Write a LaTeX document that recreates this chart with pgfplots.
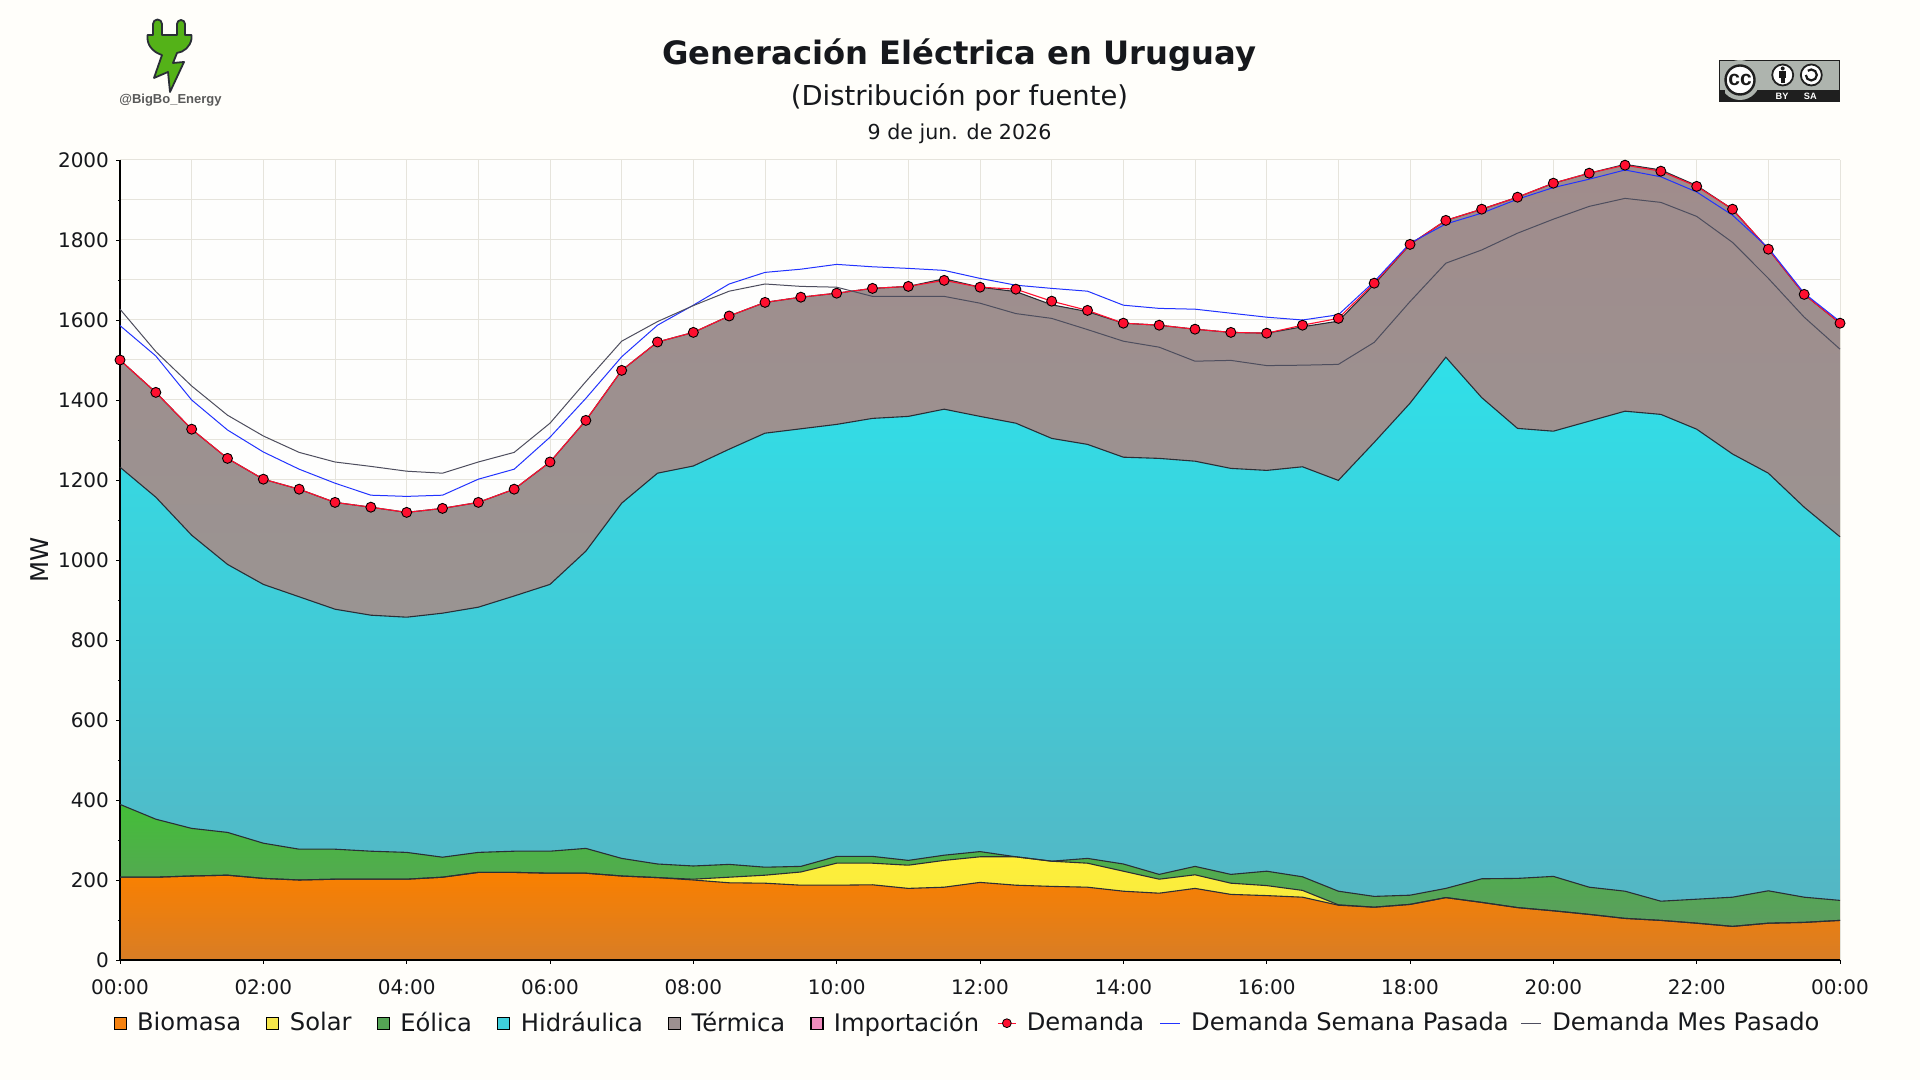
\documentclass[border=0pt]{standalone}
\usepackage{fontspec}
\setmainfont{DejaVu Sans}
\newfontfamily\logofont{Liberation Sans}
\usepackage{pgfplots}
\usepackage{pgfplotstable}
\pgfplotsset{compat=1.18}
\definecolor{bgc}{HTML}{FFFEFA}
\definecolor{plotbg}{HTML}{FEFEFD}
\definecolor{gridc}{HTML}{E6E4DC}
\definecolor{txt}{HTML}{16181C}
\definecolor{edge}{HTML}{2A2E36}
\definecolor{redd}{HTML}{FF0F2F}
\definecolor{bluel}{HTML}{2233FF}
\definecolor{grayl}{HTML}{4E4E5E}
\pgfplotstableread{
t b sol eol hyd ter imp
0 207 0 182 843 268 0
0.5 207 0 145 805 262 0
1 210 0 119 733 265 0
1.5 212 0 107 670 265 0
2 204 0 88 647 263 0
2.5 200 0 77 631 269 0
3 202 0 75 600 267 0
3.5 202 0 70 590 270 0
4 202 0 67 588 262 0
4.5 207 0 50 610 262 0
5 219 0 50 613 262 0
5.5 219 0 53 638 267 0
6 217 0 55 667 306 0
6.5 217 0 62 743 327 0
7 210 0 44 888 332 0
7.5 206 0 34 977 328 0
8 200 2 33 1000 334 0
8.5 193 14 32 1038 333 0
9 192 20 20 1085 327 0
9.5 187 33 14 1094 329 0
10 187 55 17 1080 328 0
10.5 188 54 17 1095 325 0
11 179 58 12 1110 325 0
11.5 182 67 13 1115 326 0
12 194 64 13 1088 323 0
12.5 187 71 0 1084 329 0
13 184 63 0 1057 334 0
13.5 182 60 12 1035 332 0
14 172 50 18 1017 335 0
14.5 167 35 12 1040 333 0
15 179 34 21 1013 330 0
15.5 164 28 22 1015 340 0
16 161 25 36 1002 343 0
16.5 157 17 34 1025 350 0
17 137 1 34 1027 398 0
17.5 132 0 27 1135 395 0
18 139 0 23 1230 397 0
18.5 156 0 23 1328 342 0
19 144 0 59 1203 471 0
19.5 131 0 73 1125 578 0
20 123 0 86 1113 620 0
20.5 114 0 68 1165 620 0
21 104 0 68 1200 617 0
21.5 99 0 48 1217 611 0
22 92 0 60 1175 609 0
22.5 84 0 73 1108 612 0
23 92 0 81 1044 560 0
23.5 94 0 63 975 532 0
24 99 0 50 909 534 0
}\layers
\pgfplotstableread{
t dem week month
0 1500 1586 1627
0.5 1419 1510 1521
1 1327 1400 1435
1.5 1254 1325 1362
2 1202 1270 1310
2.5 1177 1227 1269
3 1144 1192 1245
3.5 1132 1162 1234
4 1119 1159 1222
4.5 1129 1162 1217
5 1144 1202 1245
5.5 1177 1227 1269
6 1245 1307 1342
6.5 1349 1404 1446
7 1474 1508 1547
7.5 1545 1587 1596
8 1569 1637 1636
8.5 1610 1690 1672
9 1644 1719 1690
9.5 1657 1727 1684
10 1667 1739 1682
10.5 1679 1733 1659
11 1684 1729 1659
11.5 1699 1724 1659
12 1682 1704 1642
12.5 1677 1687 1616
13 1647 1679 1604
13.5 1624 1672 1576
14 1592 1637 1547
14.5 1587 1629 1532
15 1577 1627 1497
15.5 1569 1617 1499
16 1567 1607 1486
16.5 1587 1600 1487
17 1604 1613 1489
17.5 1692 1696 1544
18 1789 1792 1646
18.5 1849 1840 1742
19 1877 1867 1775
19.5 1907 1902 1817
20 1942 1931 1852
20.5 1967 1952 1884
21 1987 1975 1904
21.5 1972 1958 1894
22 1934 1920 1859
22.5 1877 1862 1794
23 1777 1780 1704
23.5 1664 1667 1607
24 1592 1596 1527
}\lines
\begin{document}
\begin{tikzpicture}
\useasboundingbox (0,0) rectangle (960pt,540pt);
\fill[bgc] (0,0) rectangle (960pt,540pt);
% logo
\begin{scope}[x=0.5pt,y=-0.5pt,shift={(0,540pt)}]
\draw[fill={rgb,255:red,84;green,178;blue,24},draw=edge,line width=0.9pt,line join=round]
 (153,35) -- (153,24) arc[start angle=180,end angle=360,radius=4.5] -- (162,35) -- (177,35) -- (177,24) arc[start angle=180,end angle=360,radius=4] -- (185,35) -- (191.5,35) -- (191.5,39)
 .. controls (190,47) and (184,52) .. (177,53) -- (173,63) -- (184,62) -- (170,92) -- (168,72) -- (154,78) -- (162,55)
 .. controls (155,53) and (148,47) .. (147.5,39) -- (147.5,35) -- cycle;
\node[text=black!65,font=\logofont\bfseries\fontsize{6.5}{8}\selectfont] at (170.5,100.5) {@BigBo\_Energy};
% CC badge
\fill[black!88] (1719,60) rectangle (1840,102);
\fill[fill={rgb,255:red,174;green,180;blue,174}] (1720,61) rectangle (1839,90);
\fill[fill={rgb,255:red,174;green,180;blue,174}] (1740,80) circle (20);
\fill[black!88] (1719,90) -- (1725,90) -- (1725,102) -- (1719,102) -- cycle;
\draw[fill=white,draw=black!88,line width=1.2pt] (1740,80) circle (14.5);
\node[font=\logofont\bfseries\fontsize{10.5}{12}\selectfont,text=black!90,inner sep=0] at (1740,79.5) {cc};
\draw[fill=white,draw=black!88,line width=0.9pt] (1782.7,75) circle (10.5);
\fill[black!90] (1782.7,68.5) circle (2);
\fill[black!90] (1779,71.5) rectangle (1786.4,78);
\fill[black!90] (1780.7,78) rectangle (1784.7,83);
\draw[fill=white,draw=black!88,line width=0.9pt] (1811.3,75) circle (10.5);
\draw[black!90,line width=1.1pt] (1805.8,75) arc[start angle=180,end angle=-130,radius=5.5];
\node[font=\logofont\bfseries\fontsize{4.6}{5}\selectfont,text=white,inner sep=0] at (1782,96) {BY};
\node[font=\logofont\bfseries\fontsize{4.6}{5}\selectfont,text=white,inner sep=0] at (1810.3,96) {SA};
% titles
\node[text=txt,font=\bfseries\fontsize{16.1}{18}\selectfont] at (959.5,55.5) {Generación Eléctrica en Uruguay};
\node[text=txt,font=\fontsize{13.7}{16}\selectfont] at (959.5,97) {(Distribución por fuente)};
\node[text=txt,font=\fontsize{10.3}{12}\selectfont] at (959.5,133.5) {9 de jun. de 2026};
\end{scope}
% stacked areas with the grid under them
\begin{axis}[
  at={(60pt,60pt)},anchor=south west,
  width=860pt,height=400pt,scale only axis,
  xmin=0,xmax=24,ymin=0,ymax=2000,
  axis lines=left,axis line style={draw=none},
  stack plots=y,
  axis background/.style={fill=plotbg},
  xtick={0,2,...,24},xticklabels={},
  minor x tick num=1,
  ytick={0,200,...,2000},yticklabels={},minor y tick num=1,
  grid=both,
  grid style={gridc,line width=0.5pt},
  minor grid style={gridc,line width=0.5pt},
  major tick length=0pt,minor tick length=0pt,
]
\addplot[draw=none,top color={rgb,255:red,250;green,128;blue,0},bottom color={rgb,255:red,216;green,125;blue,37}]
  table[x=t,y=b]{\layers} \closedcycle;
\addplot[draw=none,top color={rgb,255:red,255;green,240;blue,58},bottom color={rgb,255:red,245;green,232;blue,64}]
  table[x=t,y=sol]{\layers} \closedcycle;
\addplot[draw=none,top color={rgb,255:red,68;green,190;blue,56},bottom color={rgb,255:red,92;green,156;blue,96}]
  table[x=t,y=eol]{\layers} \closedcycle;
\addplot[draw=none,top color={rgb,255:red,47;green,224;blue,233},bottom color={rgb,255:red,84;green,182;blue,196}]
  table[x=t,y=hyd]{\layers} \closedcycle;
\addplot[draw=none,top color={rgb,255:red,160;green,140;blue,140},bottom color={rgb,255:red,154;green,148;blue,146}]
  table[x=t,y=ter]{\layers} \closedcycle;
\addplot[draw=none,fill={rgb,255:red,240;green,140;blue,190}]
  table[x=t,y=imp]{\layers} \closedcycle;
\end{axis}
% lines, axis lines, ticks and legend over them
\begin{axis}[
  at={(60pt,60pt)},anchor=south west,
  width=860pt,height=400pt,scale only axis,
  xmin=0,xmax=24,ymin=0,ymax=2000,
  axis lines=left,axis line style={-,black,line width=0.7pt},
  clip=false,
  xtick={0,2,...,24},
  xticklabels={00:00,02:00,04:00,06:00,08:00,10:00,12:00,14:00,16:00,18:00,20:00,22:00,00:00},
  ytick={0,200,...,2000},minor y tick num=1,
  tick align=outside,
  major tick length=2pt,minor tick length=1pt,
  tick style={black,line width=0.4pt},
  tick label style={font=\fontsize{10}{12}\selectfont,text=txt},
  /pgf/number format/assume math mode=true,
  /pgf/number format/1000 sep={},
  ylabel={MW},
  y label style={at={(axis description cs:-0.0465,0.5)},anchor=center,font=\fontsize{12.2}{14}\selectfont,text=txt},
  xticklabel style={yshift=-4.2pt},
  legend columns=-1,
  legend cell align=left,
  legend style={at={(axis description cs:-0.004,-0.079)},anchor=west,draw=none,fill=none,inner xsep=0pt,
    font=\fontsize{12.1}{14}\selectfont,text=txt,
    /tikz/every even column/.append style={column sep=10.6pt},
    /tikz/every odd column/.append style={column sep=3.2pt}},
]
\addlegendimage{legend image code/.code={\draw[fill={rgb,255:red,245;green,130;blue,16},draw=black,line width=0.6pt] (0pt,-3pt) rectangle (6pt,3pt);}}
\addlegendentry{Biomasa}
\addlegendimage{legend image code/.code={\draw[fill={rgb,255:red,245;green,230;blue,75},draw=black,line width=0.6pt] (0pt,-3pt) rectangle (6pt,3pt);}}
\addlegendentry{Solar}
\addlegendimage{legend image code/.code={\draw[fill={rgb,255:red,85;green,165;blue,85},draw=black,line width=0.6pt] (0pt,-3pt) rectangle (6pt,3pt);}}
\addlegendentry{Eólica}
\addlegendimage{legend image code/.code={\draw[fill={rgb,255:red,62;green,208;blue,220},draw=black,line width=0.6pt] (0pt,-3pt) rectangle (6pt,3pt);}}
\addlegendentry{Hidráulica}
\addlegendimage{legend image code/.code={\draw[fill={rgb,255:red,156;green,144;blue,144},draw=black,line width=0.6pt] (0pt,-3pt) rectangle (6pt,3pt);}}
\addlegendentry{Térmica}
\addlegendimage{legend image code/.code={\draw[fill={rgb,255:red,240;green,140;blue,190},draw=black,line width=0.6pt] (0pt,-3pt) rectangle (6pt,3pt);}}
\addlegendentry{Importación\kern-3.6pt}
% outlines of the bands
\addplot[forget plot,edge,line width=0.55pt] table[x=t,y=b]{\layers};
\addplot[forget plot,edge,line width=0.55pt] table[x=t,y expr=\thisrow{b}+\thisrow{sol}]{\layers};
\addplot[forget plot,edge,line width=0.55pt] table[x=t,y expr=\thisrow{b}+\thisrow{sol}+\thisrow{eol}]{\layers};
\addplot[forget plot,edge,line width=0.55pt] table[x=t,y expr=\thisrow{b}+\thisrow{sol}+\thisrow{eol}+\thisrow{hyd}]{\layers};
\addplot[forget plot,edge,line width=0.55pt] table[x=t,y expr=\thisrow{b}+\thisrow{sol}+\thisrow{eol}+\thisrow{hyd}+\thisrow{ter}]{\layers};
\addplot[redd,line width=0.55pt,mark=*,mark size=2.5pt,mark options={fill=redd,draw=black,line width=0.45pt},
  legend image code/.code={\draw[redd,line width=0.6pt] (0pt,0pt) -- (9pt,0pt); \draw[fill=redd,draw=black,line width=0.4pt] (4.5pt,0pt) circle (2.2pt);}]
  table[x=t,y=dem]{\lines};
\addlegendentry{Demanda\kern-4.9pt}
\addplot[bluel,line width=0.5pt,
  legend image code/.code={\draw[bluel,line width=0.5pt] (0pt,0pt) -- (10pt,0pt);}]
  table[x=t,y=week]{\lines};
\addlegendentry{Demanda Semana Pasada\kern-6.5pt}
\addplot[grayl,line width=0.5pt,
  legend image code/.code={\draw[grayl,line width=0.5pt] (0pt,0pt) -- (10pt,0pt);}]
  table[x=t,y=month]{\lines};
\addlegendentry{Demanda Mes Pasado}
\end{axis}
\end{tikzpicture}
\end{document}
